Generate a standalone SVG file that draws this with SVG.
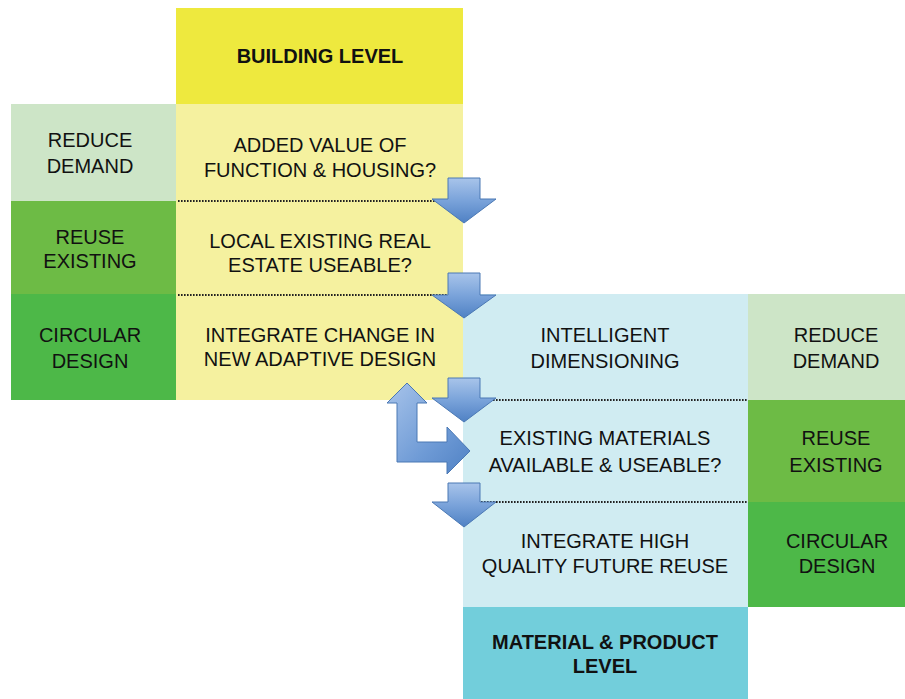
<svg xmlns="http://www.w3.org/2000/svg" width="905" height="699" viewBox="0 0 905 699">
<defs>
<linearGradient id="ag" x1="0" y1="0" x2="0" y2="1">
<stop offset="0" stop-color="#a8c4ea"/>
<stop offset="0.5" stop-color="#7aa3da"/>
<stop offset="1" stop-color="#4f81c4"/>
</linearGradient>
<linearGradient id="ag2" x1="0" y1="0" x2="1" y2="1">
<stop offset="0" stop-color="#a8c4ea"/>
<stop offset="0.6" stop-color="#6f9bd6"/>
<stop offset="1" stop-color="#4f81c4"/>
</linearGradient>
</defs>
<style>
text{font-family:"Liberation Sans",Arial,sans-serif;font-size:20px;fill:#111;text-anchor:middle}
.b{font-weight:bold}
.dot{stroke:#222;stroke-width:2;stroke-dasharray:1.6 1.4;fill:none}
.arr{fill:url(#ag);stroke:#4a78b4;stroke-width:1}
</style>
<rect width="905" height="699" fill="#ffffff"/>
<g id="building-level"><rect x="176" y="8" width="287" height="96" fill="#eee93e"/><text class="b" x="320" y="63">BUILDING LEVEL</text></g>
<g id="reduce-demand-left"><rect x="11" y="104" width="165" height="97" fill="#cde5c7"/><text x="90" y="147">REDUCE</text><text x="90" y="173">DEMAND</text></g>
<g id="added-value"><rect x="176" y="104" width="287" height="97" fill="#f5f19f"/><text x="320" y="152">ADDED VALUE OF</text><text x="320" y="177">FUNCTION &amp; HOUSING?</text></g>
<g id="reuse-existing-left"><rect x="11" y="201" width="165" height="93" fill="#6dbb45"/><text x="90" y="244">REUSE</text><text x="90" y="268">EXISTING</text></g>
<g id="local-existing"><rect x="176" y="201" width="287" height="93" fill="#f5f19f"/><text x="320" y="248">LOCAL EXISTING REAL</text><text x="320" y="272">ESTATE USEABLE?</text></g>
<g id="circular-design-left"><rect x="11" y="294" width="165" height="106" fill="#4db848"/><text x="90" y="342">CIRCULAR</text><text x="90" y="368">DESIGN</text></g>
<g id="integrate-change"><rect x="176" y="294" width="287" height="106" fill="#f5f19f"/><text x="320" y="342">INTEGRATE CHANGE IN</text><text x="320" y="366">NEW ADAPTIVE DESIGN</text></g>
<g id="intelligent-dimensioning"><rect x="463" y="294" width="285" height="106" fill="#d0ecf2"/><text x="605" y="342">INTELLIGENT</text><text x="605" y="368">DIMENSIONING</text></g>
<g id="reduce-demand-right"><rect x="748" y="294" width="157" height="106" fill="#cde5c7"/><text x="836" y="342">REDUCE</text><text x="836" y="368">DEMAND</text></g>
<g id="existing-materials"><rect x="463" y="400" width="285" height="102" fill="#d0ecf2"/><text x="605" y="445">EXISTING MATERIALS</text><text x="605" y="472">AVAILABLE &amp; USEABLE?</text></g>
<g id="reuse-existing-right"><rect x="748" y="400" width="157" height="102" fill="#6dbb45"/><text x="836" y="445">REUSE</text><text x="836" y="472">EXISTING</text></g>
<g id="integrate-high"><rect x="463" y="502" width="285" height="105" fill="#d0ecf2"/><text x="605" y="548">INTEGRATE HIGH</text><text x="605" y="573">QUALITY FUTURE REUSE</text></g>
<g id="circular-design-right"><rect x="748" y="502" width="157" height="105" fill="#4db848"/><text x="837" y="548">CIRCULAR</text><text x="837" y="573">DESIGN</text></g>
<g id="material-level"><rect x="463" y="607" width="285" height="92" fill="#72cedb"/><text class="b" x="605" y="649">MATERIAL &amp; PRODUCT</text><text class="b" x="605" y="673">LEVEL</text></g>
<g id="connectors">
<line class="dot" x1="178" y1="201" x2="460" y2="201"/>
<line class="dot" x1="178" y1="295" x2="460" y2="295"/>
<line class="dot" x1="466" y1="400" x2="748" y2="400"/>
<line class="dot" x1="466" y1="502" x2="748" y2="502"/>
<polygon class="arr" points="448,178 480,178 480,199 496,199 464,223 432,199 448,199"/>
<polygon class="arr" points="448,273 480,273 480,295 496,295 464,318 432,295 448,295"/>
<polygon class="arr" points="448,378 480,378 480,398 496,398 464,422 432,398 448,398"/>
<polygon class="arr" points="448,483 480,483 480,502 496,502 464,527 432,502 448,502"/>
<polygon class="arr" style="fill:url(#ag2)" points="407,383 427,403 417,403 417,442 447,442 447,427 470,451 447,474 447,462 397,462 397,403 387,403"/>
</g>
</svg>
